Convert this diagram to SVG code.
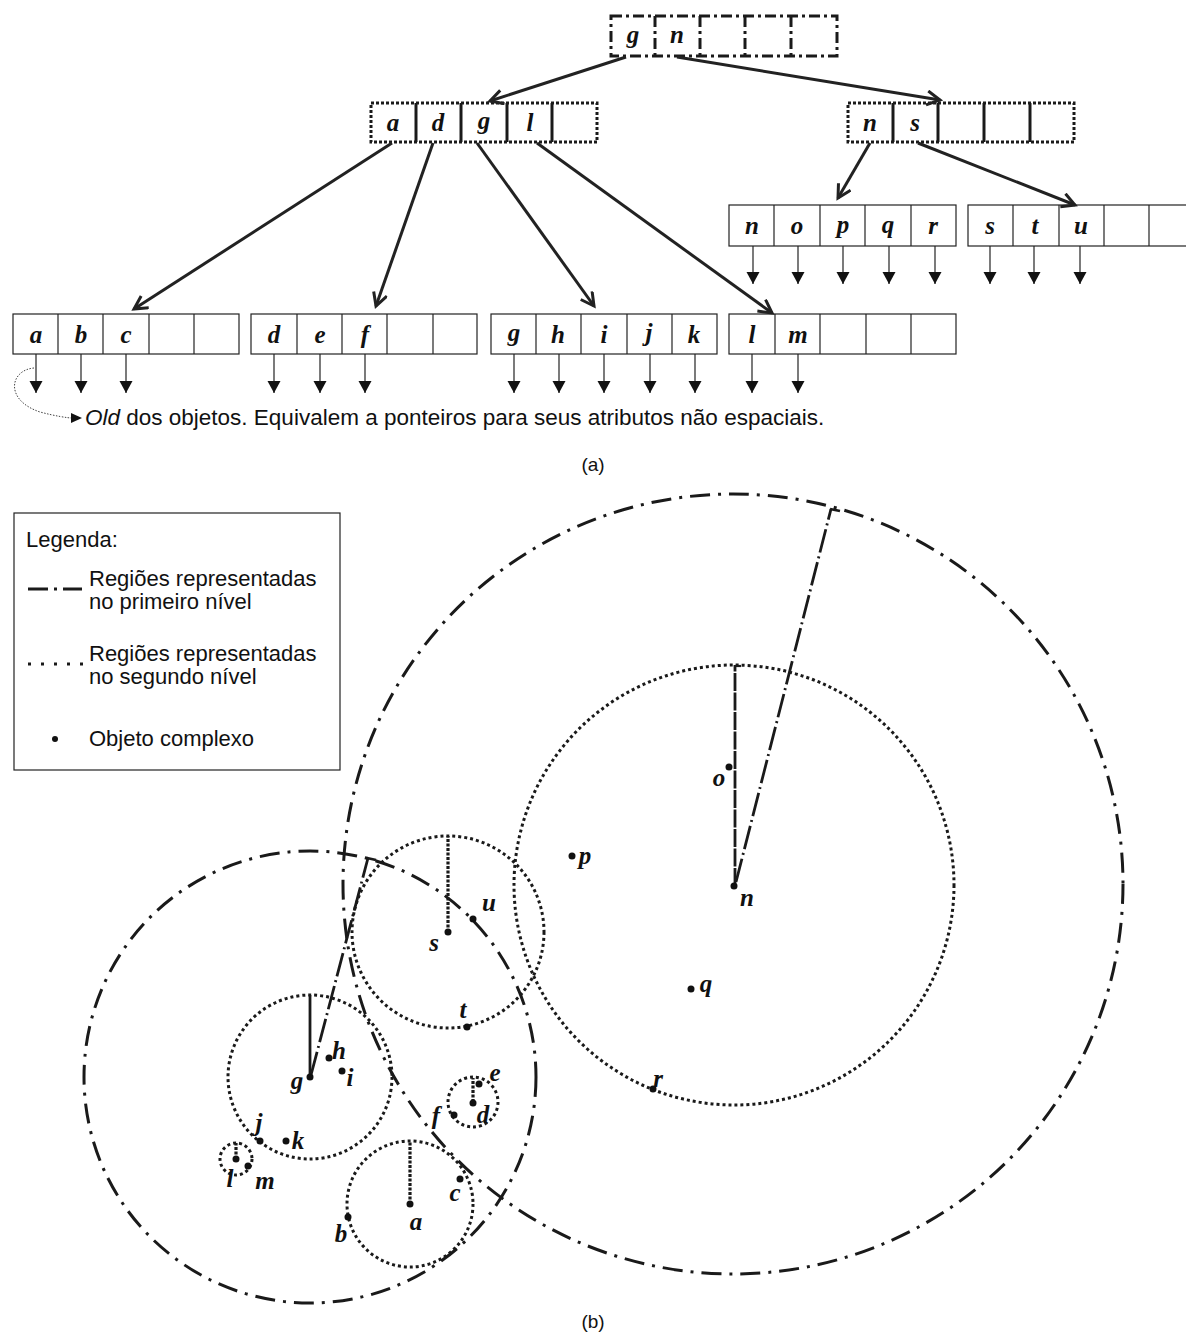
<svg xmlns="http://www.w3.org/2000/svg" width="1186" height="1333" viewBox="0 0 1186 1333">
<style>
.lbl{font-family:"Liberation Serif","Times New Roman",serif;font-weight:bold;font-style:italic;font-size:25px;fill:#111;text-anchor:middle}
.txt{font-family:"Liberation Sans",Arial,sans-serif;font-size:22px;fill:#111}
.cap{font-family:"Liberation Sans",Arial,sans-serif;font-size:19px;fill:#111;text-anchor:middle}
.cell{fill:#fff;stroke:#222;stroke-width:1.2}
.conn{stroke:#222;stroke-width:3;fill:none}
.ptr{stroke:#222;stroke-width:1.2}
.lvl1{fill:none;stroke:#1a1a1a;stroke-width:3;stroke-dasharray:20,8,3,8}
.lvl2{fill:none;stroke:#1a1a1a;stroke-width:3;stroke-dasharray:3,3}
.pt{fill:#111}
</style>
<defs>
<marker id="open" markerWidth="18" markerHeight="18" refX="14" refY="8" orient="auto" markerUnits="userSpaceOnUse">
<path d="M1,1 L14,8 L1,15" fill="none" stroke="#222" stroke-width="3"/>
</marker>
<marker id="tri" markerWidth="14" markerHeight="14" refX="12" refY="6.5" orient="auto" markerUnits="userSpaceOnUse">
<path d="M0,0 L12,6.5 L0,13 Z" fill="#111"/>
</marker>
</defs>
<rect width="1186" height="1333" fill="#fff"/>

<!-- (a) tree -->
<g id="root">
<rect x="611" y="16" width="226" height="40" fill="none" stroke="#1a1a1a" stroke-width="3" stroke-dasharray="11,4,3,4"/>
<g stroke="#1a1a1a" stroke-width="3" stroke-dasharray="11,4,3,4">
<line x1="655" y1="16" x2="655" y2="56"/><line x1="700" y1="16" x2="700" y2="56"/><line x1="745" y1="16" x2="745" y2="56"/><line x1="791" y1="16" x2="791" y2="56"/>
</g>
<text class="lbl" x="633" y="43">g</text><text class="lbl" x="677" y="43">n</text>
</g>

<g id="node-adgl">
<rect x="371" y="103" width="226" height="39" fill="none" stroke="#1a1a1a" stroke-width="3" stroke-dasharray="3,2"/>
<g stroke="#1a1a1a" stroke-width="3"><line x1="416" y1="103" x2="416" y2="142"/><line x1="461" y1="103" x2="461" y2="142"/><line x1="507" y1="103" x2="507" y2="142"/><line x1="552" y1="103" x2="552" y2="142"/></g>
<text class="lbl" x="393" y="131">a</text><text class="lbl" x="438" y="131">d</text><text class="lbl" x="484" y="129">g</text><text class="lbl" x="530" y="131">l</text>
</g>

<g id="node-ns">
<rect x="848" y="103" width="226" height="39" fill="none" stroke="#1a1a1a" stroke-width="3" stroke-dasharray="3,2"/>
<g stroke="#1a1a1a" stroke-width="3"><line x1="893" y1="103" x2="893" y2="142"/><line x1="938" y1="103" x2="938" y2="142"/><line x1="984" y1="103" x2="984" y2="142"/><line x1="1030" y1="103" x2="1030" y2="142"/></g>
<text class="lbl" x="870" y="131">n</text><text class="lbl" x="915" y="131">s</text>
</g>

<g id="leaf-nopqr">
<rect class="cell" x="729" y="205" width="227" height="41"/>
<g class="ptr"><line x1="774" y1="205" x2="774" y2="246"/><line x1="820" y1="205" x2="820" y2="246"/><line x1="865" y1="205" x2="865" y2="246"/><line x1="911" y1="205" x2="911" y2="246"/></g>
<text class="lbl" x="752" y="234">n</text><text class="lbl" x="797" y="234">o</text><text class="lbl" x="843" y="233">p</text><text class="lbl" x="888" y="233">q</text><text class="lbl" x="933" y="234">r</text>
<g class="ptr" marker-end="url(#tri)"><line x1="753" y1="246" x2="753" y2="284"/><line x1="798" y1="246" x2="798" y2="284"/><line x1="843" y1="246" x2="843" y2="284"/><line x1="889" y1="246" x2="889" y2="284"/><line x1="935" y1="246" x2="935" y2="284"/></g>
</g>

<g id="leaf-stu">
<rect class="cell" x="968" y="205" width="226" height="41"/>
<g class="ptr"><line x1="1013" y1="205" x2="1013" y2="246"/><line x1="1059" y1="205" x2="1059" y2="246"/><line x1="1104" y1="205" x2="1104" y2="246"/><line x1="1149" y1="205" x2="1149" y2="246"/></g>
<text class="lbl" x="990" y="234">s</text><text class="lbl" x="1035" y="234">t</text><text class="lbl" x="1081" y="234">u</text>
<g class="ptr" marker-end="url(#tri)"><line x1="990" y1="246" x2="990" y2="284"/><line x1="1034" y1="246" x2="1034" y2="284"/><line x1="1080" y1="246" x2="1080" y2="284"/></g>
</g>

<g id="leaf-abc">
<rect class="cell" x="13" y="314" width="226" height="40"/>
<g class="ptr"><line x1="58" y1="314" x2="58" y2="354"/><line x1="103" y1="314" x2="103" y2="354"/><line x1="149" y1="314" x2="149" y2="354"/><line x1="194" y1="314" x2="194" y2="354"/></g>
<text class="lbl" x="36" y="343">a</text><text class="lbl" x="81" y="343">b</text><text class="lbl" x="126" y="343">c</text>
<g class="ptr" marker-end="url(#tri)"><line x1="36" y1="354" x2="36" y2="393"/><line x1="81" y1="354" x2="81" y2="393"/><line x1="126" y1="354" x2="126" y2="393"/></g>
</g>

<g id="leaf-def">
<rect class="cell" x="251" y="314" width="226" height="40"/>
<g class="ptr"><line x1="297" y1="314" x2="297" y2="354"/><line x1="342" y1="314" x2="342" y2="354"/><line x1="387" y1="314" x2="387" y2="354"/><line x1="433" y1="314" x2="433" y2="354"/></g>
<text class="lbl" x="274" y="343">d</text><text class="lbl" x="320" y="343">e</text><text class="lbl" x="365" y="343">f</text>
<g class="ptr" marker-end="url(#tri)"><line x1="274" y1="354" x2="274" y2="393"/><line x1="320" y1="354" x2="320" y2="393"/><line x1="365" y1="354" x2="365" y2="393"/></g>
</g>

<g id="leaf-ghijk">
<rect class="cell" x="491" y="314" width="226" height="40"/>
<g class="ptr"><line x1="536" y1="314" x2="536" y2="354"/><line x1="581" y1="314" x2="581" y2="354"/><line x1="627" y1="314" x2="627" y2="354"/><line x1="672" y1="314" x2="672" y2="354"/></g>
<text class="lbl" x="514" y="341">g</text><text class="lbl" x="558" y="343">h</text><text class="lbl" x="604" y="343">i</text><text class="lbl" x="649" y="341">j</text><text class="lbl" x="694" y="343">k</text>
<g class="ptr" marker-end="url(#tri)"><line x1="514" y1="354" x2="514" y2="393"/><line x1="559" y1="354" x2="559" y2="393"/><line x1="604" y1="354" x2="604" y2="393"/><line x1="650" y1="354" x2="650" y2="393"/><line x1="695" y1="354" x2="695" y2="393"/></g>
</g>

<g id="leaf-lm">
<rect class="cell" x="729" y="314" width="227" height="40"/>
<g class="ptr"><line x1="775" y1="314" x2="775" y2="354"/><line x1="820" y1="314" x2="820" y2="354"/><line x1="866" y1="314" x2="866" y2="354"/><line x1="911" y1="314" x2="911" y2="354"/></g>
<text class="lbl" x="752" y="343">l</text><text class="lbl" x="798" y="343">m</text>
<g class="ptr" marker-end="url(#tri)"><line x1="752" y1="354" x2="752" y2="393"/><line x1="798" y1="354" x2="798" y2="393"/></g>
</g>

<g id="connectors">
<g class="conn" marker-end="url(#open)">
<line x1="626" y1="57" x2="490" y2="101"/>
<line x1="677" y1="57" x2="940" y2="100"/>
<line x1="392" y1="143" x2="134" y2="309"/>
<line x1="433" y1="143" x2="376" y2="306"/>
<line x1="477" y1="143" x2="594" y2="306"/>
<line x1="537" y1="143" x2="772" y2="313"/>
<line x1="870" y1="143" x2="838" y2="198"/>
<line x1="918" y1="143" x2="1075" y2="205"/>
</g>
<path d="M34,368 C10,370 4,400 40,412 C55,416 68,418 72,418" fill="none" stroke="#444" stroke-width="1" stroke-dasharray="1.5,1.5"/>
<path d="M71,413 L82,418 L71,423 Z" fill="#111"/>
</g>

<text class="txt" x="85" y="425" style="font-size:22.5px"><tspan font-style="italic">Old</tspan> dos objetos. Equivalem a ponteiros para seus atributos não espaciais.</text>
<text class="cap" x="593" y="471">(a)</text>

<!-- (b) legend -->
<g id="legend">
<rect x="14" y="513" width="326" height="257" fill="#fff" stroke="#222" stroke-width="1.2"/>
<text class="txt" x="26" y="547">Legenda:</text>
<line x1="28" y1="589" x2="82" y2="589" stroke="#1a1a1a" stroke-width="3" stroke-dasharray="20,6,3,6"/>
<text class="txt" x="89" y="586">Regiões representadas</text>
<text class="txt" x="89" y="609">no primeiro nível</text>
<line x1="28" y1="664" x2="84" y2="664" stroke="#1a1a1a" stroke-width="3" stroke-dasharray="3,10"/>
<text class="txt" x="89" y="661">Regiões representadas</text>
<text class="txt" x="89" y="684">no segundo nível</text>
<circle cx="55" cy="739" r="3" class="pt"/>
<text class="txt" x="89" y="746">Objeto complexo</text>
</g>

<!-- (b) regions -->
<g id="region-N">
<circle class="lvl1" cx="733" cy="884" r="390"/>
<line x1="736" y1="882" x2="831" y2="509" stroke="#1a1a1a" stroke-width="2.8" stroke-dasharray="24,4,2,4"/>
<line x1="830" y1="509" x2="840" y2="511" stroke="#1a1a1a" stroke-width="2.8"/>
</g>
<g id="region-G">
<circle class="lvl1" cx="310" cy="1077" r="226"/>
<line x1="311" y1="1075" x2="368" y2="858" stroke="#1a1a1a" stroke-width="2.8" stroke-dasharray="24,4,2,4"/>
<line x1="367" y1="858" x2="376" y2="860" stroke="#1a1a1a" stroke-width="2.8"/>
</g>
<g id="region-n">
<circle class="lvl2" cx="734" cy="885" r="220"/>
<line x1="735" y1="886" x2="735" y2="665" stroke="#1a1a1a" stroke-width="2.8" stroke-dasharray="18,1.5"/>
<line x1="735" y1="666" x2="741" y2="666" stroke="#1a1a1a" stroke-width="2.2"/>
</g>
<g id="region-s">
<circle class="lvl2" cx="448" cy="932" r="96"/>
<line x1="448" y1="932" x2="448" y2="836" stroke="#1a1a1a" stroke-width="3.2" stroke-dasharray="3,1.5"/>
</g>
<g id="region-g">
<circle class="lvl2" cx="310" cy="1077" r="82"/>
<line x1="310" y1="1077" x2="310" y2="995" stroke="#1a1a1a" stroke-width="2.8"/>
</g>
<g id="region-d">
<circle class="lvl2" cx="473" cy="1102" r="25"/>
<line x1="473" y1="1102" x2="473" y2="1078" stroke="#1a1a1a" stroke-width="3.2" stroke-dasharray="3,1.5"/>
</g>
<g id="region-l">
<circle class="lvl2" cx="236" cy="1159" r="16"/>
<line x1="236" y1="1159" x2="236" y2="1143" stroke="#1a1a1a" stroke-width="3.2" stroke-dasharray="3,1.5"/>
</g>
<g id="region-a">
<circle class="lvl2" cx="410" cy="1204" r="63"/>
<line x1="410" y1="1204" x2="410" y2="1141" stroke="#1a1a1a" stroke-width="3.2" stroke-dasharray="3,1.5"/>
</g>

<g id="objects">
<circle class="pt" cx="729" cy="767" r="3.5"/><text class="lbl" x="719" y="786">o</text>
<circle class="pt" cx="734" cy="886" r="3.5"/><text class="lbl" x="747" y="906">n</text>
<circle class="pt" cx="572" cy="856" r="3.5"/><text class="lbl" x="585" y="864">p</text>
<circle class="pt" cx="691" cy="989" r="3.5"/><text class="lbl" x="706" y="992">q</text>
<circle class="pt" cx="653" cy="1089" r="3.5"/><text class="lbl" x="658" y="1087">r</text>
<circle class="pt" cx="448" cy="932" r="3.5"/><text class="lbl" x="434" y="951">s</text>
<circle class="pt" cx="473" cy="919" r="3.5"/><text class="lbl" x="489" y="911">u</text>
<circle class="pt" cx="467" cy="1027" r="3.5"/><text class="lbl" x="463" y="1018">t</text>
<circle class="pt" cx="329" cy="1058" r="3.5"/><text class="lbl" x="339" y="1059">h</text>
<circle class="pt" cx="342" cy="1071" r="3.5"/><text class="lbl" x="350" y="1086">i</text>
<circle class="pt" cx="310" cy="1077" r="3.5"/><text class="lbl" x="297" y="1089">g</text>
<circle class="pt" cx="260" cy="1141" r="3.5"/><text class="lbl" x="259" y="1131">j</text>
<circle class="pt" cx="286" cy="1141" r="3.5"/><text class="lbl" x="298" y="1149">k</text>
<circle class="pt" cx="479" cy="1084" r="3.5"/><text class="lbl" x="495" y="1081">e</text>
<circle class="pt" cx="473" cy="1103" r="3.5"/><text class="lbl" x="483" y="1123">d</text>
<circle class="pt" cx="454" cy="1115" r="3.5"/><text class="lbl" x="436" y="1124">f</text>
<circle class="pt" cx="236" cy="1159" r="3.5"/><text class="lbl" x="230" y="1187">l</text>
<circle class="pt" cx="248" cy="1166" r="3.5"/><text class="lbl" x="265" y="1189">m</text>
<circle class="pt" cx="460" cy="1179" r="3.5"/><text class="lbl" x="455" y="1201">c</text>
<circle class="pt" cx="410" cy="1204" r="3.5"/><text class="lbl" x="416" y="1230">a</text>
<circle class="pt" cx="348" cy="1217" r="3.5"/><text class="lbl" x="341" y="1242">b</text>
</g>

<text class="cap" x="593" y="1328">(b)</text>
</svg>
